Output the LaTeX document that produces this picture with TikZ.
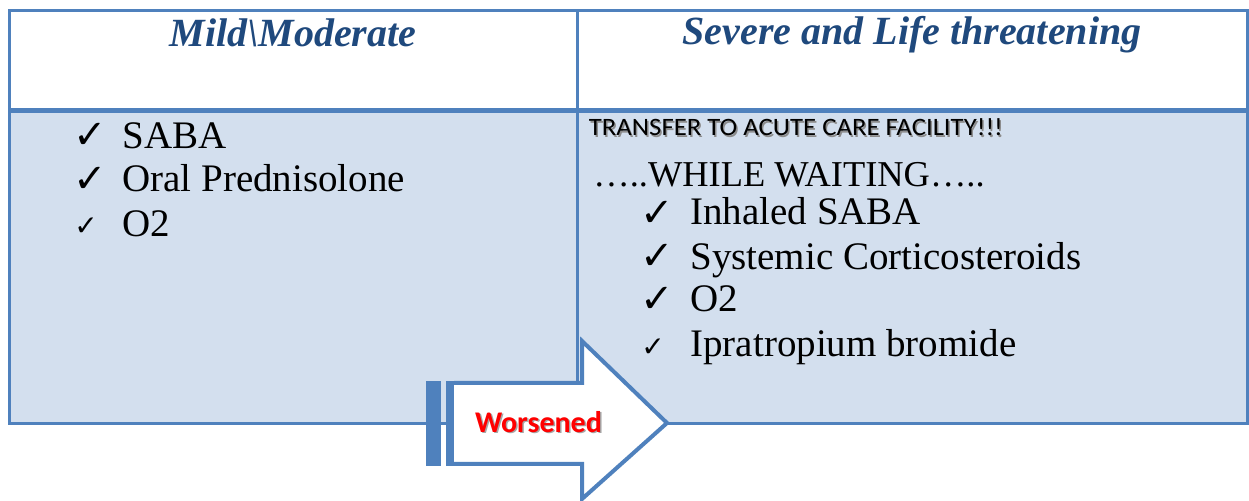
\documentclass[tikz,border=0pt]{standalone}
\usepackage{fontspec}
\setmainfont{Liberation Serif}
\newfontfamily\calib{Carlito}
\newfontfamily\calibw[FakeStretch=1.07]{Carlito}
\newfontfamily\djv{DejaVu Sans}
\definecolor{tblue}{HTML}{4F81BD}
\definecolor{hblue}{HTML}{1F497D}
\definecolor{cellfill}{HTML}{D3DFEE}
\definecolor{wred}{HTML}{FF0000}
\tikzset{
  hdr/.style={anchor=base, inner sep=0pt, text=hblue, font=\fontsize{20pt}{22pt}\selectfont\bfseries\itshape},
  item/.style={anchor=base west, inner sep=0pt, font=\fontsize{19.5pt}{22pt}\selectfont},
  chkbig/.style={anchor=base west, inner sep=0pt, font=\djv\fontsize{20pt}{22pt}\selectfont},
  chksmall/.style={anchor=base west, inner sep=0pt, font=\djv\fontsize{14pt}{16pt}\selectfont},
  tline/.style={draw=tblue, line width=1.5pt},
}
\begin{document}
\begin{tikzpicture}[x=0.5pt,y=-0.5pt]
\useasboundingbox (0,0) rectangle (1249,501);
% cells
\fill[white] (9,11) rectangle (1247,111);
\fill[cellfill] (9,111) rectangle (1247,424);
\draw[tline] (9,11) rectangle (1247,424);
\draw[tline] (577,11) -- (577,424);
\draw[draw=tblue, line width=2.5pt] (9,110.5) -- (1247,110.5);
% headers
\node[hdr] (h1) at (293,47) {Mild\textbackslash Moderate};
\node[hdr] (h2) at (912,45) {Severe and Life threatening};
% left items
\node[chkbig] (lc1) at (73,149) {✓};
\node[item] (l1) at (122,149) {SABA};
\node[chkbig] (lc2) at (73,193) {✓};
\node[item] (l2) at (122,192) {Oral Prednisolone};
\node[chksmall] (lc3) at (74,236) {✓};
\node[item] (l3) at (122,237) {O2};
% right items
\node[anchor=base west, inner sep=0pt, text=black!45, font=\calibw\fontsize{12.5pt}{13pt}\selectfont] (tshadow) at (590,137.5) {TRANSFER TO ACUTE CARE FACILITY!!!};
\node[anchor=base west, inner sep=0pt, font=\calibw\fontsize{12.5pt}{13pt}\selectfont] (t1) at (588.5,136) {TRANSFER TO ACUTE CARE FACILITY!!!};
\node[anchor=base west, inner sep=0pt, font=\fontsize{18.2pt}{22pt}\selectfont] (t2) at (593,187) {…..WHILE WAITING…..};
\node[chkbig] (rc1) at (640,227) {✓};
\node[item] (r1) at (690,225) {Inhaled SABA};
\node[chkbig] (rc2) at (640,270) {✓};
\node[item] (r2) at (690,270) {Systemic Corticosteroids};
\node[chkbig] (rc3) at (640,313) {✓};
\node[item] (r3) at (690,312) {O2};
\node[chksmall] (rc4) at (641,357) {✓};
\node[item] (r4) at (690,357) {Ipratropium bromide};
% arrow
\fill[white] (454,383) -- (582,383) -- (582,341) -- (667,423) -- (582,499) -- (582,464) -- (454,464) -- cycle;
\fill[tblue] (426,381) rectangle (441,466);
\fill[tblue] (446,381) rectangle (454,466);
\draw[draw=tblue, line width=2pt, line join=miter] (454,383) -- (582,383) -- (582,341) -- (667,423) -- (582,499) -- (582,464) -- (454,464);
\node[anchor=base, inner sep=0pt, text=black!35, font=\calib\bfseries\fontsize{15pt}{16pt}\selectfont] (wsh) at (540,434) {Worsened};
\node[anchor=base, inner sep=0pt, text=wred, font=\calib\bfseries\fontsize{15pt}{16pt}\selectfont] (w) at (538.5,432.5) {Worsened};
\end{tikzpicture}
\end{document}
